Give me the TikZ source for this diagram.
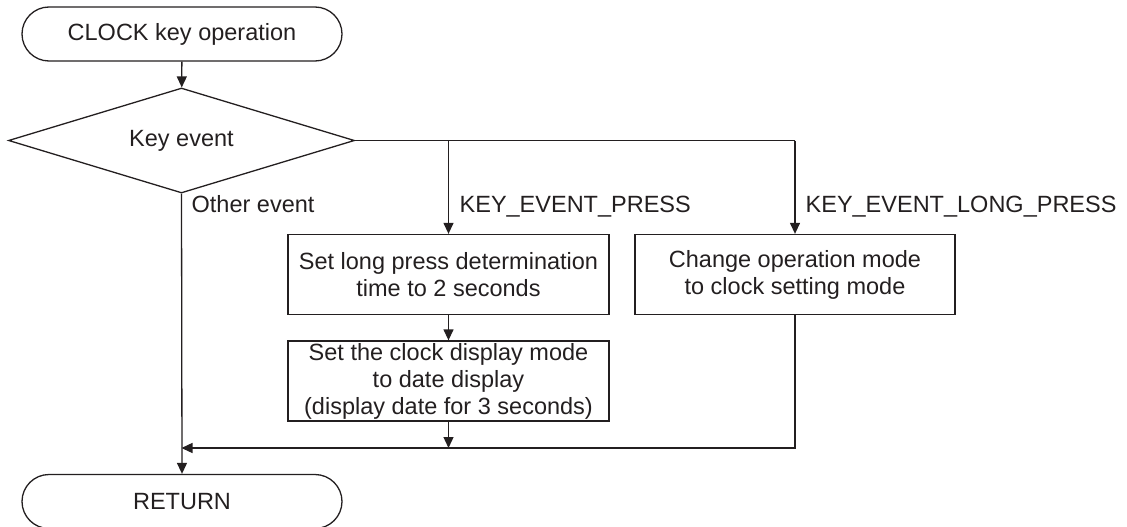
\documentclass[tikz,border=0pt]{standalone}
\usepackage{fontspec}
\setmainfont{Liberation Sans}
\usetikzlibrary{shapes.geometric,arrows.meta}
\definecolor{ink}{RGB}{35,31,32}
\begin{document}
\begin{tikzpicture}[x=1pt,y=-1pt,
  every node/.style={text=ink},
  font=\fontsize{23.5}{27}\selectfont,
  line width=1.3pt, draw=ink,
  >={Triangle[length=11pt,width=10pt]},
  term/.style={draw=ink, rounded corners=27pt, minimum width=320pt, minimum height=54pt, inner sep=0pt},
  dec/.style={draw=ink, diamond, aspect=3.3, minimum width=346pt, minimum height=105pt, inner sep=0pt},
  proc/.style={draw=ink, rectangle, minimum height=80pt, inner sep=0pt, align=center},
  lbl/.style={anchor=base west, inner sep=0pt}]
\useasboundingbox (0,0) rectangle (1127,527);
\node[term] (start) at (182,34) {CLOCK key operation};
\node[dec] (key) at (181.5,140.5) {Key event};
\node[proc, minimum width=321pt] (b1) at (448.5,274.5) {Set long press determination\\time to 2 seconds};
\node[proc, minimum width=321pt] (b2) at (448.5,381) {Set the clock display mode\\to date display\\(display date for 3 seconds)};
\node[proc, minimum width=320pt] (b3) at (795,274.5) {Change operation mode\\to clock setting mode};
\node[term] (ret) at (182,501.5) {RETURN};
\coordinate (p) at (448.5,140.5);
\coordinate (r) at (795,140.5);
\coordinate (m) at (448.5,448);
\coordinate (jl) at (181.5,448);
\draw[->, draw=ink] (start) -- (key);
\draw[->, draw=ink] (key.south) -- (ret.north);
\draw[draw=ink] (key.east) -- (r);
\draw[->, draw=ink] (p) -- (b1);
\draw[->, draw=ink] (r) -- (b3);
\draw[->, draw=ink] (b1) -- (b2);
\draw[->, draw=ink] (b2) -- (m);
\draw[->, draw=ink] (b3.south) |- (jl);
\node[lbl] (l1) at (191,212) {Other event};
\node[lbl] (l2) at (459,212) {KEY\_EVENT\_PRESS};
\node[lbl] (l3) at (805,212) {KEY\_EVENT\_LONG\_PRESS};
\end{tikzpicture}
\end{document}
